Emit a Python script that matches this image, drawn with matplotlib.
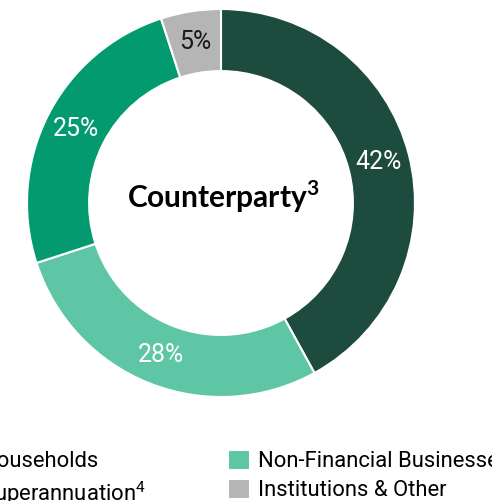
import matplotlib
matplotlib.use("Agg")
import matplotlib.pyplot as plt

# Counterparty split (clockwise from 12 o'clock)
segments = ["Households", "Non-Financial Businesses", "Superannuation$^4$", "Institutions & Other"]
shares = [42, 28, 25, 5]
colors = ["#1d4c3e", "#5ec6a5", "#039a6f", "#b5b5b5"]
label_colors = ["white", "white", "white", "#1a1a1a"]
legend_order = [0, 2, 1, 3]

plt.rcParams["mathtext.fontset"] = "custom"
plt.rcParams["mathtext.rm"] = "Roboto"
plt.rcParams["mathtext.bf"] = "Lato:bold"

W, H = 492, 501
fig = plt.figure(figsize=(W / 100, H / 100), dpi=100)
cx, cy, r = 221, 203, 194
ax = fig.add_axes([(cx - r) / W, (H - cy - r) / H, 2 * r / W, 2 * r / H])

wedges, texts, autotexts = ax.pie(
    shares, colors=colors, startangle=90, counterclock=False, radius=1,
    wedgeprops=dict(width=0.32, edgecolor="white", linewidth=1.5),
    autopct="%d%%", pctdistance=0.84,
    textprops=dict(family="Roboto", fontsize=18),
)
for t, c in zip(autotexts, label_colors):
    t.set_color(c)

ax.text(0.01, 0.03, r"Counterparty$^{\mathbf{3}}$", ha="center", va="center",
        family="Lato", fontweight="bold", fontsize=21.5)
ax.set_xlim(-1, 1)
ax.set_ylim(-1, 1)
ax.set_aspect("equal")
ax.axis("off")

fig.legend([wedges[i] for i in legend_order], [segments[i] for i in legend_order],
           ncol=2, loc="upper left", bbox_to_anchor=(-50 / W, 1 - 450 / H),
           frameon=False, borderpad=0, borderaxespad=0,
           prop=dict(family="Roboto", size=15.8),
           handlelength=1.0, handleheight=1.0, handletextpad=0.4,
           labelspacing=0.3, columnspacing=3.75)

fig.savefig("out.png", dpi=100)
